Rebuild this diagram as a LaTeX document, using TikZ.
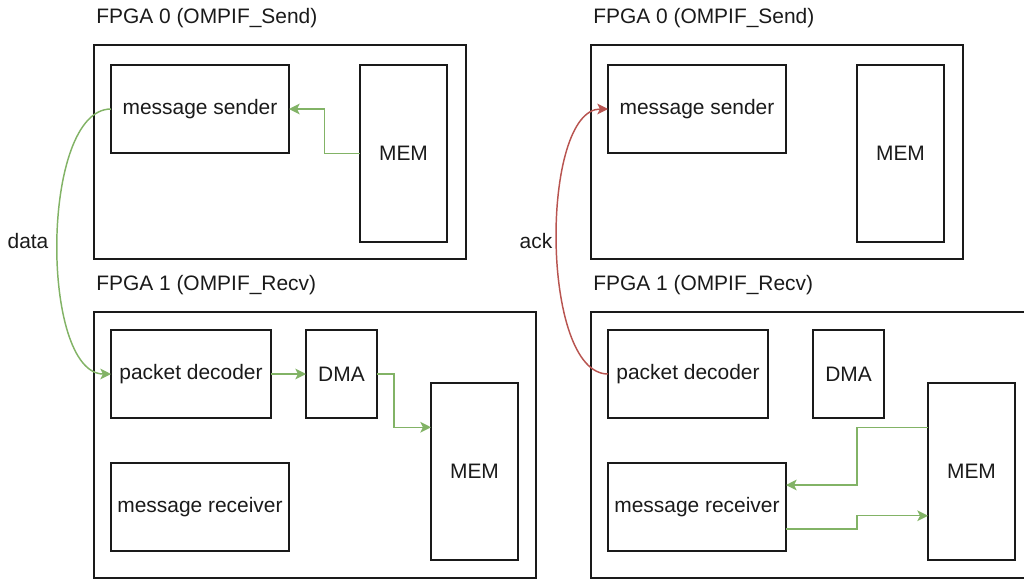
\documentclass[tikz,border=0pt]{standalone}
\usepackage{fontspec}
\setmainfont{Liberation Sans}
\usetikzlibrary{arrows.meta,calc}
\definecolor{flowgreen}{HTML}{82B366}
\definecolor{flowred}{HTML}{B85450}
\definecolor{inkline}{HTML}{1A1A1A}
\tikzset{
  blk/.style 2 args={draw=inkline, line width=1.1pt, inner sep=0pt, outer sep=0pt,
    minimum width=#1*0.75pt, minimum height=#2*0.75pt, text=inkline,
    font=\fontsize{15.7pt}{18pt}\selectfont},
  title/.style={anchor=west, inner sep=0pt, text=inkline,
    font=\fontsize{15.7pt}{18pt}\selectfont},
  lbl/.style={inner sep=0pt, text=inkline, font=\fontsize{15.7pt}{18pt}\selectfont},
  flow/.style={draw=flowgreen, line width=1.1pt,
    -{Stealth[length=8pt, width=8pt, inset=2pt]}},
  backflow/.style={draw=flowred, line width=1.1pt,
    -{Stealth[length=8pt, width=8pt, inset=2pt]}},
}
\begin{document}
\begin{tikzpicture}[x=0.75pt, y=-0.75pt]
\useasboundingbox (0,0) rectangle (1024,579);

% ---------------- left: data transfer ----------------
\node[title] (t0a) at (96,18) {FPGA 0 (OMPIF\_Send)};
\node[blk={372}{214}] (f0a) at (280,152) {};
\node[blk={178}{88}] (msa) at (200,109) {message sender};
\node[blk={87}{177}] (m0a) at (403.5,153.5) {MEM};

\node[title] (t1a) at (96,285) {FPGA 1 (OMPIF\_Recv)};
\node[blk={442}{266}] (f1a) at (315,445) {};
\node[blk={160}{88}] (pda) at (191,374) {packet decoder};
\node[blk={71}{88}] (dmaa) at (341.5,374) {DMA};
\node[blk={87}{177}] (m1a) at (474.5,471.5) {MEM};
\node[blk={178}{88}] (mra) at (200,507) {message receiver};

\node[lbl] (ldata) at (28,241) {data};

\coordinate (m1ain) at ($(m1a.north west)!0.25!(m1a.south west)$);

\draw[flow] (m0a.west) -| ($(msa.east)!0.5!(m0a.west)$) |- (msa.east);
\draw[flow] (msa.west) .. controls (40,109) and (40,374) .. (pda.west);
\draw[flow] (pda.east) -- (dmaa.west);
\draw[flow] (dmaa.east) -- ++(17,0) |- (m1ain);

% ---------------- right: acknowledgement ----------------
\node[title] (t0b) at (593,18) {FPGA 0 (OMPIF\_Send)};
\node[blk={372}{214}] (f0b) at (777,152) {};
\node[blk={178}{88}] (msb) at (697,109) {message sender};
\node[blk={87}{177}] (m0b) at (900.5,153.5) {MEM};

\node[title] (t1b) at (593,285) {FPGA 1 (OMPIF\_Recv)};
\node[blk={442}{266}] (f1b) at (812,445) {};
\node[blk={160}{88}] (pdb) at (688,374) {packet decoder};
\node[blk={71}{88}] (dmab) at (848.5,374) {DMA};
\node[blk={87}{177}] (m1b) at (971.5,471.5) {MEM};
\node[blk={178}{88}] (mrb) at (697,507) {message receiver};

\node[lbl] (lack) at (536,241) {ack};

\coordinate (m1bout) at ($(m1b.north west)!0.25!(m1b.south west)$);
\coordinate (m1bin)  at ($(m1b.north west)!0.75!(m1b.south west)$);
\coordinate (mrbin)  at ($(mrb.north east)!0.25!(mrb.south east)$);
\coordinate (mrbout) at ($(mrb.north east)!0.75!(mrb.south east)$);

\draw[backflow] (pdb.west) .. controls (540,374) and (540,109) .. (msb.west);
\draw[flow] (m1bout) -- ++(-71,0) |- (mrbin);
\draw[flow] (mrbout) -- ++(71,0) |- (m1bin);
\end{tikzpicture}
\end{document}
